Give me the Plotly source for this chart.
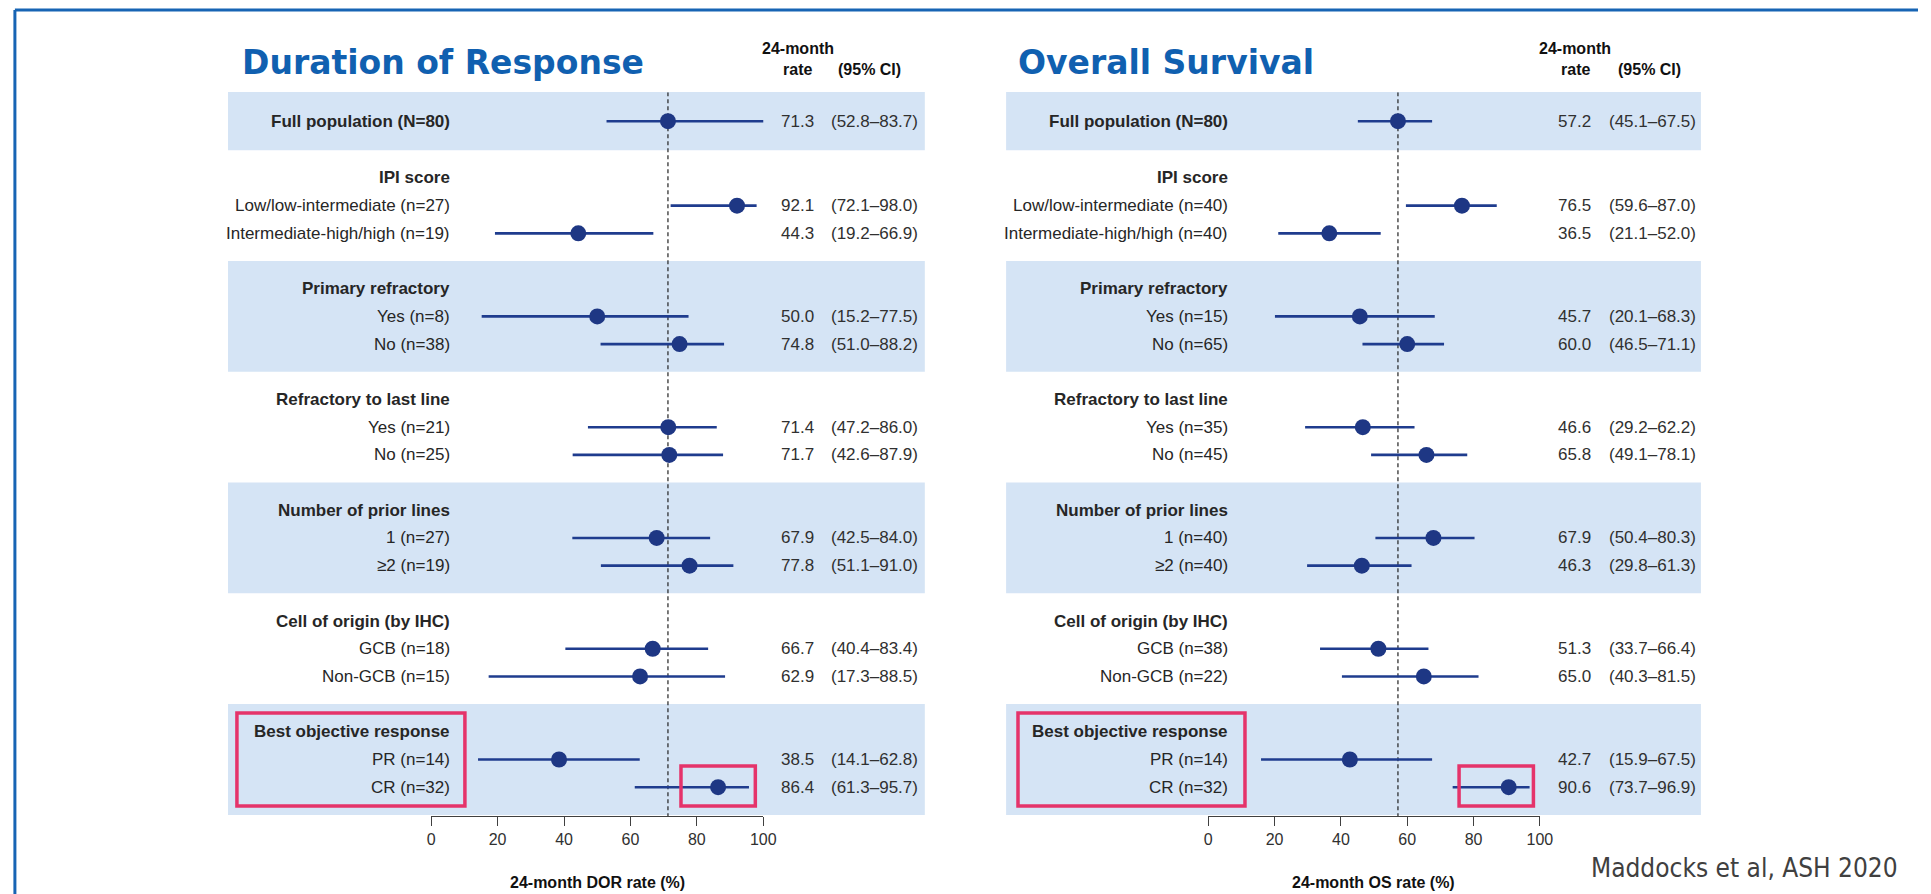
import plotly.graph_objects as go

W, H = 1931, 894

# ---------------- data ----------------
group_names = ["IPI score", "Primary refractory", "Refractory to last line",
               "Number of prior lines", "Cell of origin (by IHC)", "Best objective response"]

dor_labels = ["Full population (N=80)",
              "Low/low-intermediate (n=27)", "Intermediate-high/high (n=19)",
              "Yes (n=8)", "No (n=38)",
              "Yes (n=21)", "No (n=25)",
              "1 (n=27)", "≥2 (n=19)",
              "GCB (n=18)", "Non-GCB (n=15)",
              "PR (n=14)", "CR (n=32)"]
dor_rate = [71.3, 92.1, 44.3, 50.0, 74.8, 71.4, 71.7, 67.9, 77.8, 66.7, 62.9, 38.5, 86.4]
dor_lo = [52.8, 72.1, 19.2, 15.2, 51.0, 47.2, 42.6, 42.5, 51.1, 40.4, 17.3, 14.1, 61.3]
dor_hi = [83.7, 98.0, 66.9, 77.5, 88.2, 86.0, 87.9, 84.0, 91.0, 83.4, 88.5, 62.8, 95.7]
# whisker ends as drawn in the picture (full-population whisker overshoots)
dor_whisker_hi = [102.6, 98.0, 66.9, 77.5, 88.2, 86.0, 87.9, 84.0, 91.0, 83.4, 88.5, 62.8, 95.7]

os_labels = ["Full population (N=80)",
             "Low/low-intermediate (n=40)", "Intermediate-high/high (n=40)",
             "Yes (n=15)", "No (n=65)",
             "Yes (n=35)", "No (n=45)",
             "1 (n=40)", "≥2 (n=40)",
             "GCB (n=38)", "Non-GCB (n=22)",
             "PR (n=14)", "CR (n=32)"]
os_rate = [57.2, 76.5, 36.5, 45.7, 60.0, 46.6, 65.8, 67.9, 46.3, 51.3, 65.0, 42.7, 90.6]
os_lo = [45.1, 59.6, 21.1, 20.1, 46.5, 29.2, 49.1, 50.4, 29.8, 33.7, 40.3, 15.9, 73.7]
os_hi = [67.5, 87.0, 52.0, 68.3, 71.1, 62.2, 78.1, 80.3, 61.3, 66.4, 81.5, 67.5, 96.9]
os_whisker_hi = list(os_hi)

tick_vals = [0, 20, 40, 60, 80, 100]

# ---------------- layout helpers ----------------
Y_TOP, Y_BOT = -1.043, 25.09         # y-axis range (reversed)
PX_TOP, PX_BOT = 92.3, 816.0         # pixel extent of y-axis domain


def u2px(u):
    return PX_TOP + (u - Y_TOP) * (PX_BOT - PX_TOP) / (Y_BOT - Y_TOP)


def px(x):
    return x / W


def py(y):
    return 1 - y / H


row_y = [0.0]
header_y = []
for g in range(6):
    header_y.append(2.05 + 4 * g)
    row_y += [3.05 + 4 * g, 4.05 + 4 * g]

NAVY = "#1E3784"
LINE = "#1F3C8E"
BAND = "#D5E4F5"
TXT = "#262626"
PINK = "#E5336A"
TITLE_BLUE = "#1060B0"

fig = go.Figure()

panels = [
    dict(xa="x", labels=dor_labels, rate=dor_rate, lo=dor_lo, hi=dor_hi, whi=dor_whisker_hi,
         band=(226, 929), lab_x=452, rate_x=819, ci_x=832, title="Duration of Response", title_x=238,
         h24=801, hci=873, axt="24-month DOR rate (%)", axc=598.5),
    dict(xa="x2", labels=os_labels, rate=os_rate, lo=os_lo, hi=os_hi, whi=os_whisker_hi,
         band=(1011, 1712), lab_x=1237, rate_x=1603, ci_x=1617, title="Overall Survival", title_x=1021,
         h24=1585, hci=1660, axt="24-month OS rate (%)", axc=1382),
]

shapes = []
annotations = []

for p in panels:
    # shaded bands (full population + alternate groups)
    bands_u = [(-1.05, 1.05)] + [(1.05 + 4 * g, 5.05 + 4 * g) for g in (1, 3, 5)]
    for (a, b) in bands_u:
        shapes.append(dict(type="rect", xref="paper", yref="paper",
                           x0=px(p["band"][0]), x1=px(p["band"][1]),
                           y0=py(u2px(b)), y1=py(u2px(a)),
                           fillcolor=BAND, line=dict(width=0), layer="below"))
    # reference dashed line at full population estimate
    fig.add_trace(go.Scatter(x=[p["rate"][0], p["rate"][0]], y=[Y_TOP, Y_BOT], mode="lines",
                             line=dict(color="#202020", width=1.2, dash="4px,3px"),
                             xaxis=p["xa"], yaxis="y", showlegend=False, hoverinfo="skip",
                             cliponaxis=False))
    # estimates with CI whiskers
    fig.add_trace(go.Scatter(
        x=p["rate"], y=row_y, mode="markers",
        marker=dict(size=16, color=NAVY),
        error_x=dict(type="data", symmetric=False,
                     array=[h - r for h, r in zip(p["whi"], p["rate"])],
                     arrayminus=[r - l for r, l in zip(p["rate"], p["lo"])],
                     width=0, thickness=2.6, color=LINE),
        xaxis=p["xa"], yaxis="y", showlegend=False, hoverinfo="skip", cliponaxis=False))

    # row labels and values
    for i, (lab, r, l, h) in enumerate(zip(p["labels"], p["rate"], p["lo"], p["hi"])):
        txt = f"<b>{lab}</b>" if i == 0 else lab
        annotations.append(dict(xref="paper", yref="y", x=px(p["lab_x"]), y=row_y[i],
                                text=txt, showarrow=False, xanchor="right", yanchor="middle",
                                font=dict(size=17, color=TXT)))
        annotations.append(dict(xref="paper", yref="y", x=px(p["rate_x"]), y=row_y[i],
                                text=f"{r:.1f}", showarrow=False, xanchor="right", yanchor="middle",
                                font=dict(size=17, color="#303030")))
        annotations.append(dict(xref="paper", yref="y", x=px(p["ci_x"]), y=row_y[i],
                                text=f"({l:.1f}–{h:.1f})", showarrow=False, xanchor="left",
                                yanchor="middle", font=dict(size=17, color="#303030")))
    for g, name in enumerate(group_names):
        annotations.append(dict(xref="paper", yref="y", x=px(p["lab_x"]), y=header_y[g],
                                text=f"<b>{name}</b>", showarrow=False, xanchor="right",
                                yanchor="middle", font=dict(size=17, color=TXT)))

    # panel title
    annotations.append(dict(xref="paper", yref="paper", x=px(p["title_x"]), y=py(62),
                            text=f"<b>{p['title']}</b>", showarrow=False, xanchor="left",
                            yanchor="middle",
                            font=dict(family="DejaVu Sans", size=33, color=TITLE_BLUE)))
    # column headers
    annotations.append(dict(xref="paper", yref="paper", x=px(p["h24"]), y=py(48),
                            text="<b>24-month</b>", showarrow=False, xanchor="center",
                            yanchor="middle", font=dict(size=16, color="#111")))
    annotations.append(dict(xref="paper", yref="paper", x=px(p["h24"]), y=py(70),
                            text="<b>rate</b>", showarrow=False, xanchor="center",
                            yanchor="middle", font=dict(size=16, color="#111")))
    annotations.append(dict(xref="paper", yref="paper", x=px(p["hci"]), y=py(70),
                            text="<b>(95% CI)</b>", showarrow=False, xanchor="center",
                            yanchor="middle", font=dict(size=16, color="#111")))
    # axis title
    annotations.append(dict(xref="paper", yref="paper", x=px(p["axc"]), y=py(882),
                            text=f"<b>{p['axt']}</b>", showarrow=False, xanchor="center",
                            yanchor="middle", font=dict(size=16, color="#111")))

# highlight boxes
for (x0, x1, y0, y1) in [(235, 465, 713, 806), (683, 758, 766, 806),
                         (1023, 1252, 713, 806), (1468, 1543, 766, 806)]:
    shapes.append(dict(type="rect", xref="paper", yref="paper",
                       x0=px(x0), x1=px(x1), y0=py(y1), y1=py(y0),
                       line=dict(color=PINK, width=3.5), fillcolor="rgba(0,0,0,0)", layer="above"))

# slide frame (top and left edges)
shapes.append(dict(type="line", xref="paper", yref="paper", x0=px(11), x1=px(1931), y0=py(10),
                   y1=py(10), line=dict(color="#1764B4", width=3)))
shapes.append(dict(type="line", xref="paper", yref="paper", x0=px(11), x1=px(11), y0=py(10), y1=0,
                   line=dict(color="#1764B4", width=3)))

# citation
annotations.append(dict(xref="paper", yref="paper", x=px(1913), y=py(868),
                        text="Maddocks et al, ASH 2020", showarrow=False, xanchor="right",
                        yanchor="middle",
                        font=dict(family="DejaVu Sans Condensed, DejaVu Sans", size=26,
                                  color="#404040")))

axis_common = dict(range=[0, 100], tickvals=tick_vals, ticks="outside", ticklen=9, tickwidth=1,
                   tickcolor="#404040", showline=True, linecolor="#404040", linewidth=1,
                   showgrid=False, zeroline=False, anchor="y", fixedrange=True,
                   tickfont=dict(size=16, color="#303030"))

fig.update_layout(
    width=W, height=H, autosize=False,
    margin=dict(l=0, r=0, t=0, b=0),
    paper_bgcolor="white", plot_bgcolor="rgba(0,0,0,0)",
    font=dict(family="Arial, Liberation Sans, sans-serif", color=TXT),
    xaxis=dict(domain=[px(431), px(766)], **axis_common),
    xaxis2=dict(domain=[px(1215), px(1549.5)], **axis_common),
    yaxis=dict(domain=[py(PX_BOT), py(PX_TOP)], range=[Y_BOT, Y_TOP], visible=False,
               fixedrange=True),
    shapes=shapes,
    annotations=annotations,
    showlegend=False,
)

fig.write_html("out.html", include_plotlyjs=True, config={"displayModeBar": False},
               post_script=("document.documentElement.style.overflow='hidden';"
                            "document.body.style.margin='0';"
                            "document.body.style.overflow='hidden';"))
